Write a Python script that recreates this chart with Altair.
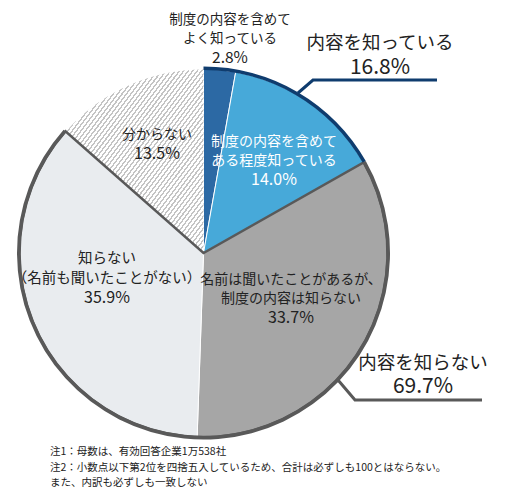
import altair as alt
import pandas as pd

# ---------------- data ----------------
categories = [
    "制度の内容を含めてよく知っている",
    "制度の内容を含めてある程度知っている",
    "名前は聞いたことがあるが、制度の内容は知らない",
    "知らない（名前も聞いたことがない）",
    "分からない",
]
values = [2.8, 14.0, 33.7, 35.9, 13.5]

groups = ["内容を知っている", "内容を知らない", "分からない"]
group_values = [16.8, 69.7, 13.5]

label_lines = [
    ["制度の内容を含めて", "よく知っている", "2.8%"],
    ["内容を知っている", "16.8%"],
    ["制度の内容を含めて", "ある程度知っている", "14.0%"],
    ["名前は聞いたことがあるが、", "制度の内容は知らない", "33.7%"],
    ["知らない", "（名前も聞いたことがない）", "35.9%"],
    ["分からない", "13.5%"],
    ["内容を知らない", "69.7%"],
]
notes = [
    "注1：母数は、有効回答企業1万538社",
    "注2：小数点以下第2位を四捨五入しているため、合計は必ずしも100とはならない。",
    "また、内訳も必ずしも一致しない",
]

# ---------------- layout / style ----------------
M = 8  # page margin
CX, CY, R = 203.5 - M, 253 - M, 184
slice_colors = ["#2c69a4", "#47a9d9", "#a6a6a6", "#e9ecef", "#ffffff"]
navy = "#0f3c6e"
dgray = "#595959"
group_colors = [navy, dgray, "transparent"]
FONT = "Noto Sans CJK JP"

# label block layout: (center x, first line y, line step, text size, percent size, color)
label_layout = [
    (230, 20, 19, 13.5, 15.5, "#222222"),
    (380, 43, 25, 18.5, 21, "#222222"),
    (274, 142, 19, 14, 16, "#ffffff"),
    (291, 280, 19, 14, 16, "#222222"),
    (107, 259, 19.5, 14.5, 16, "#222222"),
    (157, 135, 19, 14, 16, "#222222"),
    (423, 363, 24, 18.5, 21, "#222222"),
]
note_layout = [(50, 452), (50, 468), (50, 483)]
callouts = [
    ([(298, 93), (313, 80), (437, 80)], navy),
    ([(338, 380), (355, 400), (482, 400)], dgray),
]

# ---------------- tables ----------------
slice_df = pd.DataFrame({"category": categories, "value": values,
                         "idx": list(range(len(values)))})
group_df = pd.DataFrame({"group": groups, "value": group_values,
                         "idx": list(range(len(groups)))})

rows = []
for lines, (lx, ly, step, size, psize, col) in zip(label_lines, label_layout):
    for i, t in enumerate(lines):
        is_pct = t.endswith("%")
        rows.append({"text": t, "x": lx - M, "y": ly + i * step - M,
                     "size": psize if is_pct else size, "color": col})
text_df = pd.DataFrame(rows)
note_df = pd.DataFrame({"text": notes,
                        "x": [p[0] - M for p in note_layout],
                        "y": [p[1] - M for p in note_layout]})
line_rows = []
for k, (pts, col) in enumerate(callouts):
    for j, (px, py) in enumerate(pts):
        line_rows.append({"line": k, "o": j, "x": px - M, "y": py - M, "color": col})
line_df = pd.DataFrame(line_rows)

# hatch pattern via hard-stop gradient
N = 62
stops = []
for i in range(N):
    a, b, c = i / N, (i + 0.6) / N, min((i + 1) / N, 1.0)
    stops += [
        alt.GradientStop(offset=a, color="#ffffff"),
        alt.GradientStop(offset=b, color="#ffffff"),
        alt.GradientStop(offset=b, color="#c4c4c4"),
        alt.GradientStop(offset=c, color="#c4c4c4"),
    ]
hatch = alt.LinearGradient(gradient="linear", stops=stops, x1=0, y1=0, x2=1, y2=1)

# ---------------- charts ----------------
sbase = alt.Chart(slice_df).encode(
    theta=alt.Theta("value:Q", stack=True),
    order=alt.Order("idx:Q"),
    x=alt.value(CX), y=alt.value(CY),
)
slices = sbase.mark_arc(radius=R, stroke="white", strokeWidth=1).encode(
    fill=alt.Fill("category:N", scale=alt.Scale(domain=categories, range=slice_colors),
                  legend=None)
)
hatched = sbase.mark_arc(radius=R - 0.5, fill=hatch).encode(
    opacity=alt.condition(alt.datum.category == "分からない", alt.value(1), alt.value(0))
)
slices_layer = alt.layer(slices, hatched)

gbase = alt.Chart(group_df).encode(
    theta=alt.Theta("value:Q", stack=True),
    order=alt.Order("idx:Q"),
    x=alt.value(CX), y=alt.value(CY),
)
wedge_outline = gbase.mark_arc(radius=R, fillOpacity=0, stroke=dgray, strokeWidth=2.5).encode(
    strokeOpacity=alt.condition(alt.datum.group == "内容を知らない", alt.value(1), alt.value(0))
)
ring = gbase.mark_arc(radius=R + 2.5, radius2=R - 1).encode(
    fill=alt.Fill("group:N", scale=alt.Scale(domain=groups, range=group_colors), legend=None)
)
group_layer = alt.layer(wedge_outline, ring)

lines = alt.Chart(line_df).mark_line(strokeWidth=3, strokeCap="butt").encode(
    x=alt.X("x:Q", scale=None, axis=None),
    y=alt.Y("y:Q", scale=None, axis=None),
    detail="line:N",
    order="o:Q",
    color=alt.Color("color:N", scale=None),
)
labels = alt.Chart(text_df).mark_text(font=FONT, baseline="middle", align="center").encode(
    x=alt.X("x:Q", scale=None, axis=None),
    y=alt.Y("y:Q", scale=None, axis=None),
    text="text:N",
    size=alt.Size("size:Q", scale=None),
    color=alt.Color("color:N", scale=None),
)
note_text = alt.Chart(note_df).mark_text(font=FONT, baseline="middle", align="left",
                                         fontSize=10.5, color="#222222").encode(
    x=alt.X("x:Q", scale=None, axis=None),
    y=alt.Y("y:Q", scale=None, axis=None),
    text="text:N",
)

chart = alt.layer(slices_layer, group_layer, lines, labels, note_text).resolve_scale(
    theta="independent", fill="independent", color="independent"
).properties(
    width=489, height=482,
    autosize=alt.AutoSizeParams(type="none"),
    padding=0,
    background="white",
).configure_view(stroke=None)

chart.save("out.html", embed_options={"renderer": "svg", "actions": False})
